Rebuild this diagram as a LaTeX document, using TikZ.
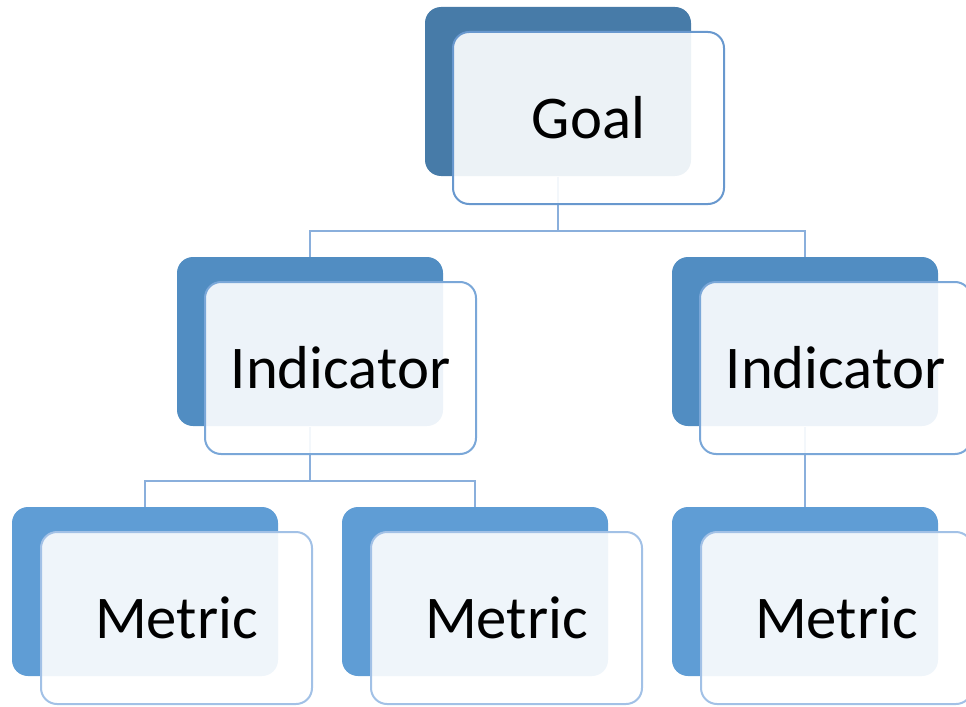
\documentclass[tikz,border=0pt]{standalone}
\usepackage{fontspec}
\setmainfont{Carlito}
\usetikzlibrary{positioning}

\definecolor{goaldark}{RGB}{71,123,168}
\definecolor{inddark}{RGB}{81,141,194}
\definecolor{metdark}{RGB}{95,157,213}
\definecolor{goalline}{RGB}{104,152,206}
\definecolor{indline}{RGB}{122,167,216}
\definecolor{metline}{RGB}{162,193,230}
\definecolor{linkblue}{RGB}{138,175,220}

\tikzset{every picture/.style={line width=0.75pt}}

\begin{document}
\begin{tikzpicture}[x=0.75pt,y=0.75pt,yscale=-1,xscale=1,
  backbox/.style={draw=none,rounded corners=12pt,inner sep=0pt,
    minimum width=199.5pt,minimum height=126.75pt},
  frontbox/.style={line width=1.5pt,fill=white,fill opacity=0.9,text opacity=1,
    rounded corners=12pt,inner sep=0pt,minimum width=203.25pt,minimum height=129pt,
    font=\fontsize{45.5}{50}\selectfont},
  link/.style={color=linkblue,line width=1.5pt}]
%set diagram size 966 x 706
\useasboundingbox (0,0) rectangle (966,706);

%Back Rounded Rects
\node [backbox,fill=goaldark] (goalback) at (558,91.5) {};
\node [backbox,fill=inddark] (indLback) at (310,341.5) {};
\node [backbox,fill=inddark] (indRback) at (805,341.5) {};
\node [backbox,fill=metdark] (metAback) at (145,591.5) {};
\node [backbox,fill=metdark] (metBback) at (475,591.5) {};
\node [backbox,fill=metdark] (metCback) at (805,591.5) {};

%Connectors
\coordinate [below=40.5pt of goalback] (goalfork);
\coordinate [below=40.5pt of indLback] (indfork);
\draw [link] (goalback.south) -- (goalfork) -| (indLback.north);
\draw [link] (goalfork) -| (indRback.north);
\draw [link] (indLback.south) -- (indfork) -| (metAback.north);
\draw [link] (indfork) -| (metBback.north);
\draw [link] (indRback.south) -- (metCback.north);

%Front Rounded Rects
\node [frontbox,draw=goalline] (goal) at (588.5,118) {Goal};
\node [frontbox,draw=indline] (indL) at (340.5,368) {Indicator};
\node [frontbox,draw=indline] (indR) at (835.5,368) {Indicator};
\node [frontbox,draw=metline] (metA) at (176.5,618) {Metric};
\node [frontbox,draw=metline] (metB) at (506.5,618) {Metric};
\node [frontbox,draw=metline] (metC) at (836.5,618) {Metric};

\end{tikzpicture}
\end{document}
